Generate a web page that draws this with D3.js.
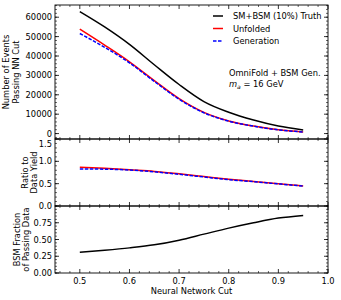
<!DOCTYPE html>
<html><head><meta charset="utf-8">
<script src="https://cdn.jsdelivr.net/npm/d3@7"></script>
<style>body{margin:0;background:#fff}svg{display:block}text{font-family:"DejaVu Sans",sans-serif;}</style>
</head><body><svg id="c" width="341" height="300"></svg>
<script>
const cuts = [0.5,0.55,0.6,0.65,0.7,0.75,0.8,0.85,0.9,0.95];
const truth = [62900,55000,46000,35500,25300,16500,11000,7000,3900,1900];
const unfolded = [53800,45600,37000,27300,18000,10900,6500,3850,1950,850];
const generation = [51600,44500,36500,26900,17700,10700,6400,3800,1920,840];
const ratioUnf = [0.87,0.845,0.81,0.775,0.72,0.66,0.6,0.55,0.5,0.45];
const ratioGen = [0.83,0.825,0.805,0.765,0.71,0.65,0.59,0.545,0.495,0.445];
const bsmFrac = [0.31,0.34,0.375,0.42,0.49,0.58,0.67,0.75,0.82,0.86];
const xTicks = [0.5,0.6,0.7,0.8,0.9,1.0];
const topTicks = [0,10000,20000,30000,40000,50000,60000];
const midTicks = [0.0,0.5,1.0,1.5];
const botTicks = [0.00,0.25,0.50,0.75];
const legendLabels = ["SM+BSM (10%) Truth","Unfolded","Generation"];
const colors = ["#000","#ff0000","#0000ff"];

const svg = d3.select("#c");
const L=55, R=328;
const x = d3.scaleLinear().domain([0.45,1.0]).range([L,R]);
const panels = [
  {y0:5,y1:139,dom:[-2800,66300],ticks:topTicks,minor:2000,fmt:d=>d3.format("d")(d),labels:["Number of Events","Passing NN Cut"],lx:[9,18.5]},
  {y0:139,y1:206,dom:[0,1.5],ticks:midTicks,minor:0.1,fmt:d3.format(".1f"),labels:["Ratio to","Data Yield"],lx:[28,37]},
  {y0:206,y1:273,dom:[0,1.0],ticks:botTicks,minor:0.05,fmt:d3.format(".2f"),labels:["BSM Fraction","of Passing Data"],lx:[20,29]}
];
panels.forEach(p=>{p.y=d3.scaleLinear().domain(p.dom).range([p.y1,p.y0]);});

const line=(ys,p)=>d3.line().x((d,i)=>x(cuts[i])).y(d=>p.y(d)).curve(d3.curveMonotoneX)(ys);

function drawTicks(p, showX, skipTop){
  const g=svg.append("g");
  const xmin=[]; for(let v=0.46;v<1.0;v+=0.02){const r=Math.round(v*100)/100; if(Math.abs(r*10-Math.round(r*10))>1e-6) xmin.push(r);}
  xTicks.forEach(t=>{const px=x(t);
    g.append("line").attr("x1",px).attr("x2",px).attr("y1",p.y1).attr("y2",p.y1-4).attr("stroke","#000").attr("stroke-width",0.8);
    g.append("line").attr("x1",px).attr("x2",px).attr("y1",p.y0).attr("y2",p.y0+4).attr("stroke","#000").attr("stroke-width",0.8);});
  xmin.forEach(t=>{const px=x(t);
    g.append("line").attr("x1",px).attr("x2",px).attr("y1",p.y1).attr("y2",p.y1-2).attr("stroke","#000").attr("stroke-width",0.6);
    g.append("line").attr("x1",px).attr("x2",px).attr("y1",p.y0).attr("y2",p.y0+2).attr("stroke","#000").attr("stroke-width",0.6);});
  p.ticks.forEach(t=>{const py=p.y(t);
    g.append("line").attr("x1",L).attr("x2",L+4).attr("y1",py).attr("y2",py).attr("stroke","#000").attr("stroke-width",0.8);
    g.append("line").attr("x1",R).attr("x2",R-4).attr("y1",py).attr("y2",py).attr("stroke","#000").attr("stroke-width",0.8);
    let ty=py+3; if(skipTop && t===p.ticks[p.ticks.length-1]) ty=py+7.5;
    g.append("text").attr("x",L-3).attr("y",ty).attr("text-anchor","end").attr("font-size",8.3).text(p.fmt(t));});
  const ymn=Math.ceil(p.dom[0]/p.minor), ymx=Math.floor(p.dom[1]/p.minor);
  for(let k=ymn;k<=ymx;k++){const v=k*p.minor; const py=p.y(v);
    g.append("line").attr("x1",L).attr("x2",L+2).attr("y1",py).attr("y2",py).attr("stroke","#000").attr("stroke-width",0.6);
    g.append("line").attr("x1",R).attr("x2",R-2).attr("y1",py).attr("y2",py).attr("stroke","#000").attr("stroke-width",0.6);}
  if(showX){xTicks.forEach(t=>{g.append("text").attr("x",x(t)).attr("y",p.y1+11).attr("text-anchor","middle").attr("font-size",8.3).text(d3.format(".1f")(t));});}
  const cy=(p.y0+p.y1)/2;
  p.labels.forEach((s,i)=>{g.append("text").attr("transform",`translate(${p.lx[i]},${cy}) rotate(-90)`).attr("text-anchor","middle").attr("font-size",8.3).text(s);});
  g.append("rect").attr("x",L).attr("y",p.y0).attr("width",R-L).attr("height",p.y1-p.y0).attr("fill","none").attr("stroke","#000").attr("stroke-width",0.9);
}

const p0=panels[0],p1=panels[1],p2=panels[2];
svg.append("path").attr("d",line(truth,p0)).attr("fill","none").attr("stroke",colors[0]).attr("stroke-width",1.5);
svg.append("path").attr("d",line(unfolded,p0)).attr("fill","none").attr("stroke",colors[1]).attr("stroke-width",1.5);
svg.append("path").attr("d",line(generation,p0)).attr("fill","none").attr("stroke",colors[2]).attr("stroke-width",1.5).attr("stroke-dasharray","3.5,1.5");
svg.append("path").attr("d",line(ratioUnf,p1)).attr("fill","none").attr("stroke",colors[1]).attr("stroke-width",1.5);
svg.append("path").attr("d",line(ratioGen,p1)).attr("fill","none").attr("stroke",colors[2]).attr("stroke-width",1.5).attr("stroke-dasharray","3.5,1.5");
svg.append("path").attr("d",line(bsmFrac,p2)).attr("fill","none").attr("stroke",colors[0]).attr("stroke-width",1.5);

drawTicks(p0,false,false);drawTicks(p1,false,true);drawTicks(p2,true,false);

svg.append("text").attr("x",(L+R)/2).attr("y",294).attr("text-anchor","middle").attr("font-size",8.3).text("Neural Network Cut");

legendLabels.forEach((s,i)=>{const yy=16+i*12.5;
  const ln=svg.append("line").attr("x1",213).attr("x2",223).attr("y1",yy).attr("y2",yy).attr("stroke",colors[i]).attr("stroke-width",1.5);
  if(i===2) ln.attr("stroke-dasharray","3.5,1.5");
  svg.append("text").attr("x",233).attr("y",yy+3).attr("font-size",8.3).text(s);});
svg.append("text").attr("x",229).attr("y",76).attr("font-size",8.3).text("OmniFold + BSM Gen.");
const t2=svg.append("text").attr("x",229).attr("y",87).attr("font-size",8.3);
t2.append("tspan").attr("font-style","italic").text("m");
t2.append("tspan").attr("font-style","italic").attr("font-size",6).attr("dy",1.5).text("a");
t2.append("tspan").attr("dy",-1.5).text(" = 16 GeV");
</script></body></html>
